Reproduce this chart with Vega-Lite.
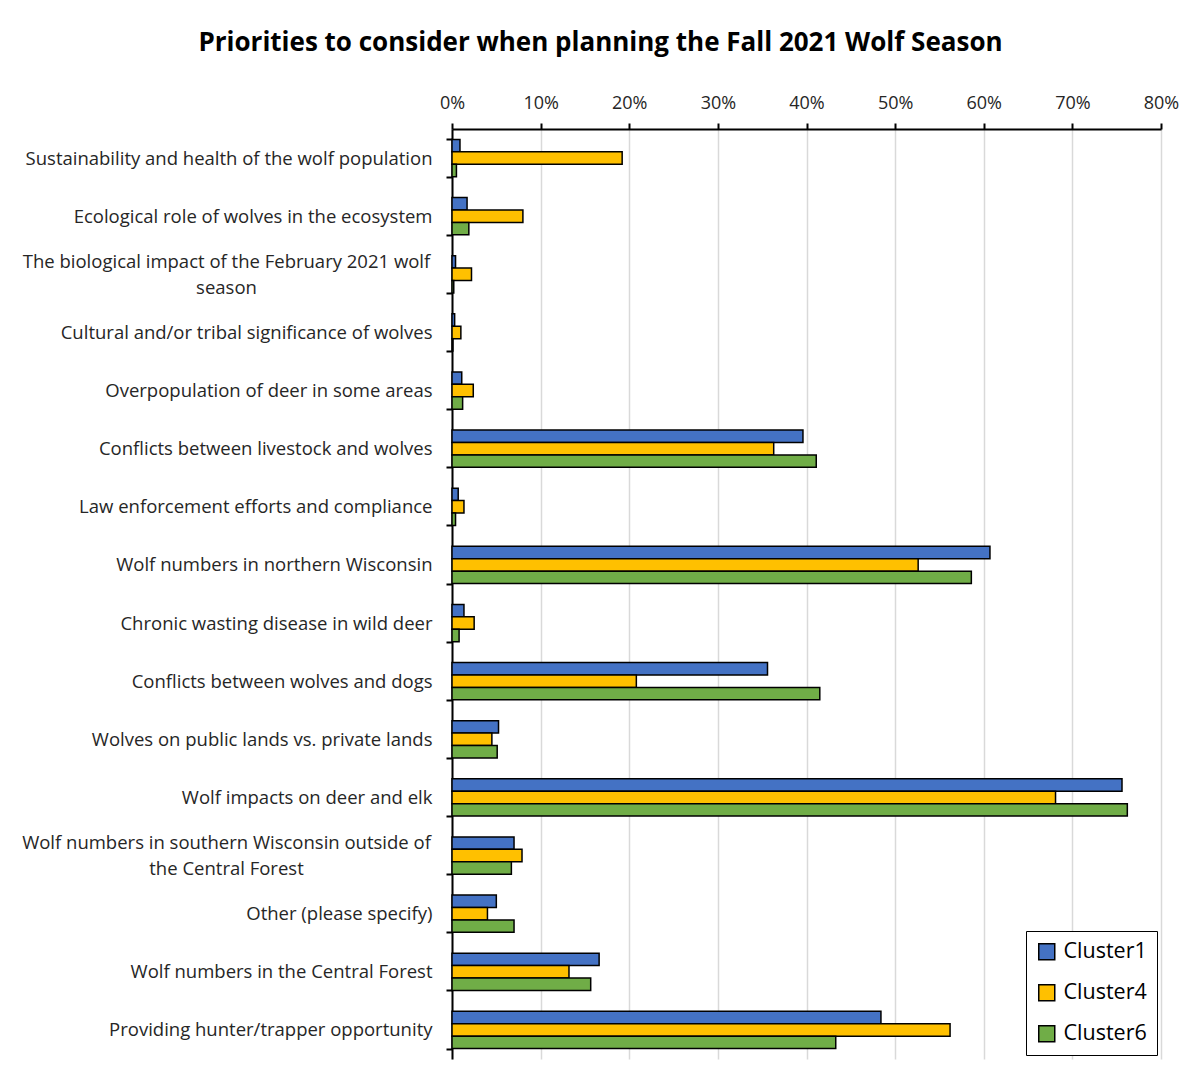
{
  "$schema": "https://vega.github.io/schema/vega-lite/v6.json",
  "autosize": "none",
  "width": 709,
  "height": 930,
  "padding": {"left": 452, "top": 129, "right": 27, "bottom": 29},
  "background": "white",
  "title": {
    "text": "Priorities to consider when planning the Fall 2021 Wolf Season",
    "font": "Open Sans",
    "fontSize": 26,
    "fontWeight": "bold",
    "color": "#000000",
    "anchor": "middle",
    "frame": "group",
    "dx": -206,
    "offset": 38
  },
  "config": {
    "view": {"stroke": null},
    "font": "Open Sans"
  },
  "data": {
    "values": [
      {"category": "Sustainability and health of the wolf population", "cluster": "Cluster1", "value": 0.009},
      {"category": "Sustainability and health of the wolf population", "cluster": "Cluster4", "value": 0.192},
      {"category": "Sustainability and health of the wolf population", "cluster": "Cluster6", "value": 0.005},
      {"category": "Ecological role of wolves in the ecosystem", "cluster": "Cluster1", "value": 0.017},
      {"category": "Ecological role of wolves in the ecosystem", "cluster": "Cluster4", "value": 0.080},
      {"category": "Ecological role of wolves in the ecosystem", "cluster": "Cluster6", "value": 0.019},
      {"category": "The biological impact of the February 2021 wolf season", "cluster": "Cluster1", "value": 0.004},
      {"category": "The biological impact of the February 2021 wolf season", "cluster": "Cluster4", "value": 0.022},
      {"category": "The biological impact of the February 2021 wolf season", "cluster": "Cluster6", "value": 0.002},
      {"category": "Cultural and/or tribal significance of wolves", "cluster": "Cluster1", "value": 0.003},
      {"category": "Cultural and/or tribal significance of wolves", "cluster": "Cluster4", "value": 0.010},
      {"category": "Cultural and/or tribal significance of wolves", "cluster": "Cluster6", "value": 0.001},
      {"category": "Overpopulation of deer in some areas", "cluster": "Cluster1", "value": 0.011},
      {"category": "Overpopulation of deer in some areas", "cluster": "Cluster4", "value": 0.024},
      {"category": "Overpopulation of deer in some areas", "cluster": "Cluster6", "value": 0.012},
      {"category": "Conflicts between livestock and wolves", "cluster": "Cluster1", "value": 0.396},
      {"category": "Conflicts between livestock and wolves", "cluster": "Cluster4", "value": 0.363},
      {"category": "Conflicts between livestock and wolves", "cluster": "Cluster6", "value": 0.411},
      {"category": "Law enforcement efforts and compliance", "cluster": "Cluster1", "value": 0.007},
      {"category": "Law enforcement efforts and compliance", "cluster": "Cluster4", "value": 0.0135},
      {"category": "Law enforcement efforts and compliance", "cluster": "Cluster6", "value": 0.004},
      {"category": "Wolf numbers in northern Wisconsin", "cluster": "Cluster1", "value": 0.607},
      {"category": "Wolf numbers in northern Wisconsin", "cluster": "Cluster4", "value": 0.526},
      {"category": "Wolf numbers in northern Wisconsin", "cluster": "Cluster6", "value": 0.586},
      {"category": "Chronic wasting disease in wild deer", "cluster": "Cluster1", "value": 0.0135},
      {"category": "Chronic wasting disease in wild deer", "cluster": "Cluster4", "value": 0.025},
      {"category": "Chronic wasting disease in wild deer", "cluster": "Cluster6", "value": 0.008},
      {"category": "Conflicts between wolves and dogs", "cluster": "Cluster1", "value": 0.356},
      {"category": "Conflicts between wolves and dogs", "cluster": "Cluster4", "value": 0.208},
      {"category": "Conflicts between wolves and dogs", "cluster": "Cluster6", "value": 0.415},
      {"category": "Wolves on public lands vs. private lands", "cluster": "Cluster1", "value": 0.0525},
      {"category": "Wolves on public lands vs. private lands", "cluster": "Cluster4", "value": 0.045},
      {"category": "Wolves on public lands vs. private lands", "cluster": "Cluster6", "value": 0.051},
      {"category": "Wolf impacts on deer and elk", "cluster": "Cluster1", "value": 0.756},
      {"category": "Wolf impacts on deer and elk", "cluster": "Cluster4", "value": 0.681},
      {"category": "Wolf impacts on deer and elk", "cluster": "Cluster6", "value": 0.762},
      {"category": "Wolf numbers in southern Wisconsin outside of the Central Forest", "cluster": "Cluster1", "value": 0.070},
      {"category": "Wolf numbers in southern Wisconsin outside of the Central Forest", "cluster": "Cluster4", "value": 0.079},
      {"category": "Wolf numbers in southern Wisconsin outside of the Central Forest", "cluster": "Cluster6", "value": 0.067},
      {"category": "Other (please specify)", "cluster": "Cluster1", "value": 0.050},
      {"category": "Other (please specify)", "cluster": "Cluster4", "value": 0.040},
      {"category": "Other (please specify)", "cluster": "Cluster6", "value": 0.070},
      {"category": "Wolf numbers in the Central Forest", "cluster": "Cluster1", "value": 0.166},
      {"category": "Wolf numbers in the Central Forest", "cluster": "Cluster4", "value": 0.132},
      {"category": "Wolf numbers in the Central Forest", "cluster": "Cluster6", "value": 0.1565},
      {"category": "Providing hunter/trapper opportunity", "cluster": "Cluster1", "value": 0.484},
      {"category": "Providing hunter/trapper opportunity", "cluster": "Cluster4", "value": 0.562},
      {"category": "Providing hunter/trapper opportunity", "cluster": "Cluster6", "value": 0.433}
    ]
  },
  "mark": {"type": "bar", "stroke": "#000000", "strokeWidth": 1.5},
  "encoding": {
    "y": {
      "field": "category",
      "type": "nominal",
      "sort": null,
      "scale": {"paddingInner": 0.36, "paddingOuter": 0.18},
      "axis": {
        "title": null,
        "domainColor": "#000000",
        "domainWidth": 2,
        "tickColor": "#000000",
        "tickWidth": 2,
        "tickSize": 6,
        "tickBand": "extent",
        "labelFont": "Open Sans",
        "labelFontSize": 18.5,
        "labelColor": "#262626",
        "labelLimit": 600,
        "labelLineHeight": 26,
        "labelExpr": "datum.value == 'The biological impact of the February 2021 wolf season' ? ['The biological impact of the February 2021 wolf', 'season'] : datum.value == 'Wolf numbers in southern Wisconsin outside of the Central Forest' ? ['Wolf numbers in southern Wisconsin outside of', 'the Central Forest'] : datum.value",
        "labelAlign": {"condition": {"test": "datum.value == 'The biological impact of the February 2021 wolf season' || datum.value == 'Wolf numbers in southern Wisconsin outside of the Central Forest'", "value": "center"}, "value": "right"},
        "labelPadding": {"condition": {"test": "datum.value == 'The biological impact of the February 2021 wolf season' || datum.value == 'Wolf numbers in southern Wisconsin outside of the Central Forest'", "value": 220}, "value": 14},
        "labelOffset": {"condition": {"test": "datum.value == 'The biological impact of the February 2021 wolf season' || datum.value == 'Wolf numbers in southern Wisconsin outside of the Central Forest'", "value": -13}, "value": 0}
      }
    },
    "yOffset": {
      "field": "cluster",
      "type": "nominal",
      "sort": ["Cluster1", "Cluster4", "Cluster6"],
      "scale": {"paddingInner": 0, "paddingOuter": 0}
    },
    "x": {
      "field": "value",
      "type": "quantitative",
      "scale": {"domain": [0, 0.8], "nice": false},
      "axis": {
        "orient": "top",
        "title": null,
        "format": ".0%",
        "values": [0, 0.1, 0.2, 0.3, 0.4, 0.5, 0.6, 0.7, 0.8],
        "domainColor": "#000000",
        "domainWidth": 2,
        "tickColor": "#000000",
        "tickWidth": 2,
        "tickSize": 6,
        "labelFont": "Open Sans",
        "labelFontSize": 18,
        "labelColor": "#262626",
        "labelPadding": 11,
        "labelFlush": false,
        "grid": true,
        "gridColor": "#d9d9d9",
        "gridWidth": 1.5
      }
    },
    "color": {
      "field": "cluster",
      "type": "nominal",
      "scale": {"domain": ["Cluster1", "Cluster4", "Cluster6"], "range": ["#4472C4", "#FFC000", "#70AD47"]},
      "legend": {
        "title": null,
        "orient": "bottom-right",
        "offset": 4,
        "fillColor": "white",
        "strokeColor": "#000000",
        "padding": 10,
        "symbolType": "square",
        "symbolSize": 256,
        "symbolStrokeColor": "#000000",
        "symbolStrokeWidth": 1.5,
        "labelFont": "Open Sans",
        "labelFontSize": 21.5,
        "labelColor": "#000000",
        "rowPadding": 18,
        "labelOffset": 6
      }
    }
  }
}
